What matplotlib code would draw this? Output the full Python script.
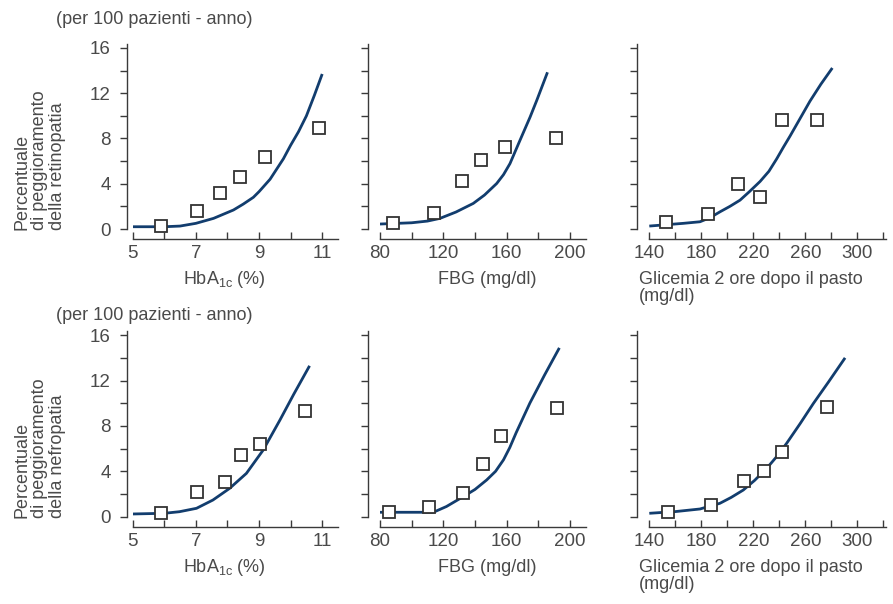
import matplotlib
matplotlib.use("Agg")
import matplotlib.pyplot as plt
from matplotlib.ticker import FixedLocator, MultipleLocator, NullFormatter

plt.rcParams["font.family"] = ["Liberation Sans", "DejaVu Sans"]

W, H = 893, 604
TEXT = "#4a4a4a"
AXC = "#3a3a3a"
LINE = "#123d6e"

# ── Data ──────────────────────────────────────────────────────────────────────
# retinopatia
ret_hba_x = [5.9, 7.05, 7.77, 8.4, 9.19, 10.91]
ret_hba_y = [0.26, 1.61, 3.15, 4.62, 6.38, 8.97]
ret_hba_cx = [5.0, 6.0, 6.5, 7.0, 7.56, 8.19, 8.5, 8.82, 9.0, 9.35, 9.77, 10.0, 10.25, 10.5, 10.75, 11.0]
ret_hba_cy = [0.2, 0.2, 0.26, 0.5, 0.94, 1.68, 2.2, 2.8, 3.3, 4.4, 6.2, 7.4, 8.6, 10.0, 11.8, 13.7]

ret_fbg_x = [88.4, 114.3, 132.0, 143.6, 159.0, 191.2]
ret_fbg_y = [0.5, 1.38, 4.23, 6.07, 7.25, 8.07]
ret_fbg_cx = [80, 100, 110, 117.9, 128, 138.9, 146, 153.7, 158, 162.1, 168.4, 174.8, 179.0, 185.8]
ret_fbg_cy = [0.44, 0.55, 0.7, 0.94, 1.5, 2.26, 3.0, 4.02, 4.8, 5.78, 7.83, 9.89, 11.36, 13.85]

ret_pp_x = [152.8, 185.4, 208.2, 225.2, 241.8, 268.8]
ret_pp_y = [0.59, 1.29, 3.96, 2.84, 9.66, 9.6]
ret_pp_cx = [140, 166.2, 179, 186.7, 194.4, 202, 209.8, 217, 225.2, 232, 238, 243, 248.2, 255.9, 263.6, 272, 280.8]
ret_pp_cy = [0.26, 0.5, 0.64, 1.0, 1.52, 2.0, 2.55, 3.3, 4.2, 5.1, 6.2, 7.2, 8.2, 9.75, 11.3, 12.8, 14.23]

# nefropatia
nef_hba_x = [5.9, 7.03, 7.92, 8.42, 9.03, 10.46]
nef_hba_y = [0.3, 2.15, 3.03, 5.4, 6.4, 9.33]
nef_hba_cx = [5.0, 6.0, 6.48, 7.02, 7.54, 8.07, 8.6, 9.13, 9.66, 10.1, 10.6]
nef_hba_cy = [0.24, 0.3, 0.44, 0.74, 1.47, 2.5, 3.82, 5.87, 8.51, 10.8, 13.3]

nef_fbg_x = [85.5, 111.2, 132.6, 145.3, 156.5, 192.0]
nef_fbg_y = [0.39, 0.88, 2.07, 4.66, 7.07, 9.58]
nef_fbg_cx = [80, 100, 113.7, 122, 132.6, 140, 147.4, 153, 158, 162, 166, 174.7, 184, 193.3]
nef_fbg_cy = [0.39, 0.39, 0.39, 0.9, 1.77, 2.4, 3.24, 4.0, 5.01, 6.1, 7.4, 10.02, 12.5, 14.88]

nef_pp_x = [154.1, 187.5, 212.8, 228.5, 242.1, 276.9]
nef_pp_y = [0.44, 1.03, 3.14, 4.02, 5.72, 9.68]
nef_pp_cx = [140, 160, 179, 194.3, 203, 212.3, 221, 230.3, 238, 245.6, 256, 266.2, 278, 290.6]
nef_pp_cy = [0.3, 0.45, 0.68, 1.18, 1.7, 2.35, 3.2, 4.26, 5.3, 6.46, 8.2, 9.98, 11.9, 14.0]

hba_ticks = [5, 7, 9, 11]
fbg_ticks = [80, 120, 160, 200]
pp_ticks = [140, 180, 220, 260, 300]
y_ticks = [0, 4, 8, 12, 16]
xlabels = ["HbA$_{\\mathregular{1c}}$ (%)", "FBG (mg/dl)",
           "Glicemia 2 ore dopo il pasto\n(mg/dl)"]
ylabels = ["Percentuale\ndi peggioramento\ndella retinopatia",
           "Percentuale\ndi peggioramento\ndella nefropatia"]
unit_note = "(per 100 pazienti - anno)"

panels = [
    [(ret_hba_x, ret_hba_y, ret_hba_cx, ret_hba_cy),
     (ret_fbg_x, ret_fbg_y, ret_fbg_cx, ret_fbg_cy),
     (ret_pp_x, ret_pp_y, ret_pp_cx, ret_pp_cy)],
    [(nef_hba_x, nef_hba_y, nef_hba_cx, nef_hba_cy),
     (nef_fbg_x, nef_fbg_y, nef_fbg_cx, nef_fbg_cy),
     (nef_pp_x, nef_pp_y, nef_pp_cx, nef_pp_cy)],
]

# per column: xlim, labelled ticks, minor step, left px, right px, spine offset (pt)
cols = [
    ((5, 11.5), hba_ticks, 1, 132.7, 338.0, 4.3),
    ((80, 210), fbg_ticks, 20, 380.0, 585.8, 8.6),
    ((140, 322), pp_ticks, 20, 649.3, 885.9, 8.6),
]
rows = [(44.0, 229.0), (331.2, 516.7)]   # top px, y=0 px
YMAX = 16.35


def px(x, y):
    return x / W, 1 - y / H


fig = plt.figure(figsize=(W / 100, H / 100), dpi=100)

for r, (ytop, ybot) in enumerate(rows):
    for c, (xlim, ticks, mnr, xl, xr, off) in enumerate(cols):
        ax = fig.add_axes([xl / W, 1 - ybot / H, (xr - xl) / W, (ybot - ytop) / H])
        ax.patch.set_alpha(0)
        sx, sy, cx, cy = panels[r][c]
        ax.plot(cx, cy, color=LINE, lw=2.0, solid_capstyle="butt",
                solid_joinstyle="round", zorder=2)
        ax.plot(sx, sy, ls="none", marker="s", ms=8, mfc="white", mec="#333333",
                mew=1.3, clip_on=False, zorder=3)
        ax.set_xlim(*xlim)
        ax.set_ylim(0, YMAX)
        for s in ("top", "right"):
            ax.spines[s].set_visible(False)
        ax.spines["left"].set_position(("outward", off))
        ax.spines["bottom"].set_position(("outward", 7.2))
        for s in ("left", "bottom"):
            ax.spines[s].set_color(AXC)
            ax.spines[s].set_linewidth(1.0)
        ax.xaxis.set_major_locator(FixedLocator(ticks))
        ax.xaxis.set_minor_locator(MultipleLocator(mnr))
        ax.yaxis.set_major_locator(FixedLocator(y_ticks))
        ax.yaxis.set_minor_locator(MultipleLocator(2))
        ax.tick_params(axis="x", which="both", direction="in", length=5, width=1,
                       color=AXC, pad=4.5, labelsize=13.5, labelcolor=TEXT)
        ax.tick_params(axis="y", which="both", direction="out", length=5, width=1,
                       color=AXC, pad=6.5, labelsize=13.5, labelcolor=TEXT)
        if c > 0:
            ax.yaxis.set_major_formatter(NullFormatter())

# axis texts
for r, (ytop, ybot) in enumerate(rows):
    xlab_y = ybot + 51
    fig.text(*px(224, xlab_y), xlabels[0], ha="center", va="center",
             fontsize=13, color=TEXT)
    fig.text(*px(487, xlab_y), xlabels[1], ha="center", va="center",
             fontsize=13, color=TEXT)
    fig.text(*px(639, xlab_y - 9), xlabels[2], ha="left", va="top",
             fontsize=13, color=TEXT, linespacing=1.0)
    fig.text(*px(56, ytop - 24 if r == 0 else ytop - 16), unit_note,
             ha="left", va="center", fontsize=13, color=TEXT)
    fig.text(*px(40, ybot + 1), ylabels[r], rotation=90, rotation_mode="anchor",
             ha="left", va="center", multialignment="left",
             fontsize=13, color=TEXT, linespacing=1.05)

fig.savefig("out.png", dpi=100)
